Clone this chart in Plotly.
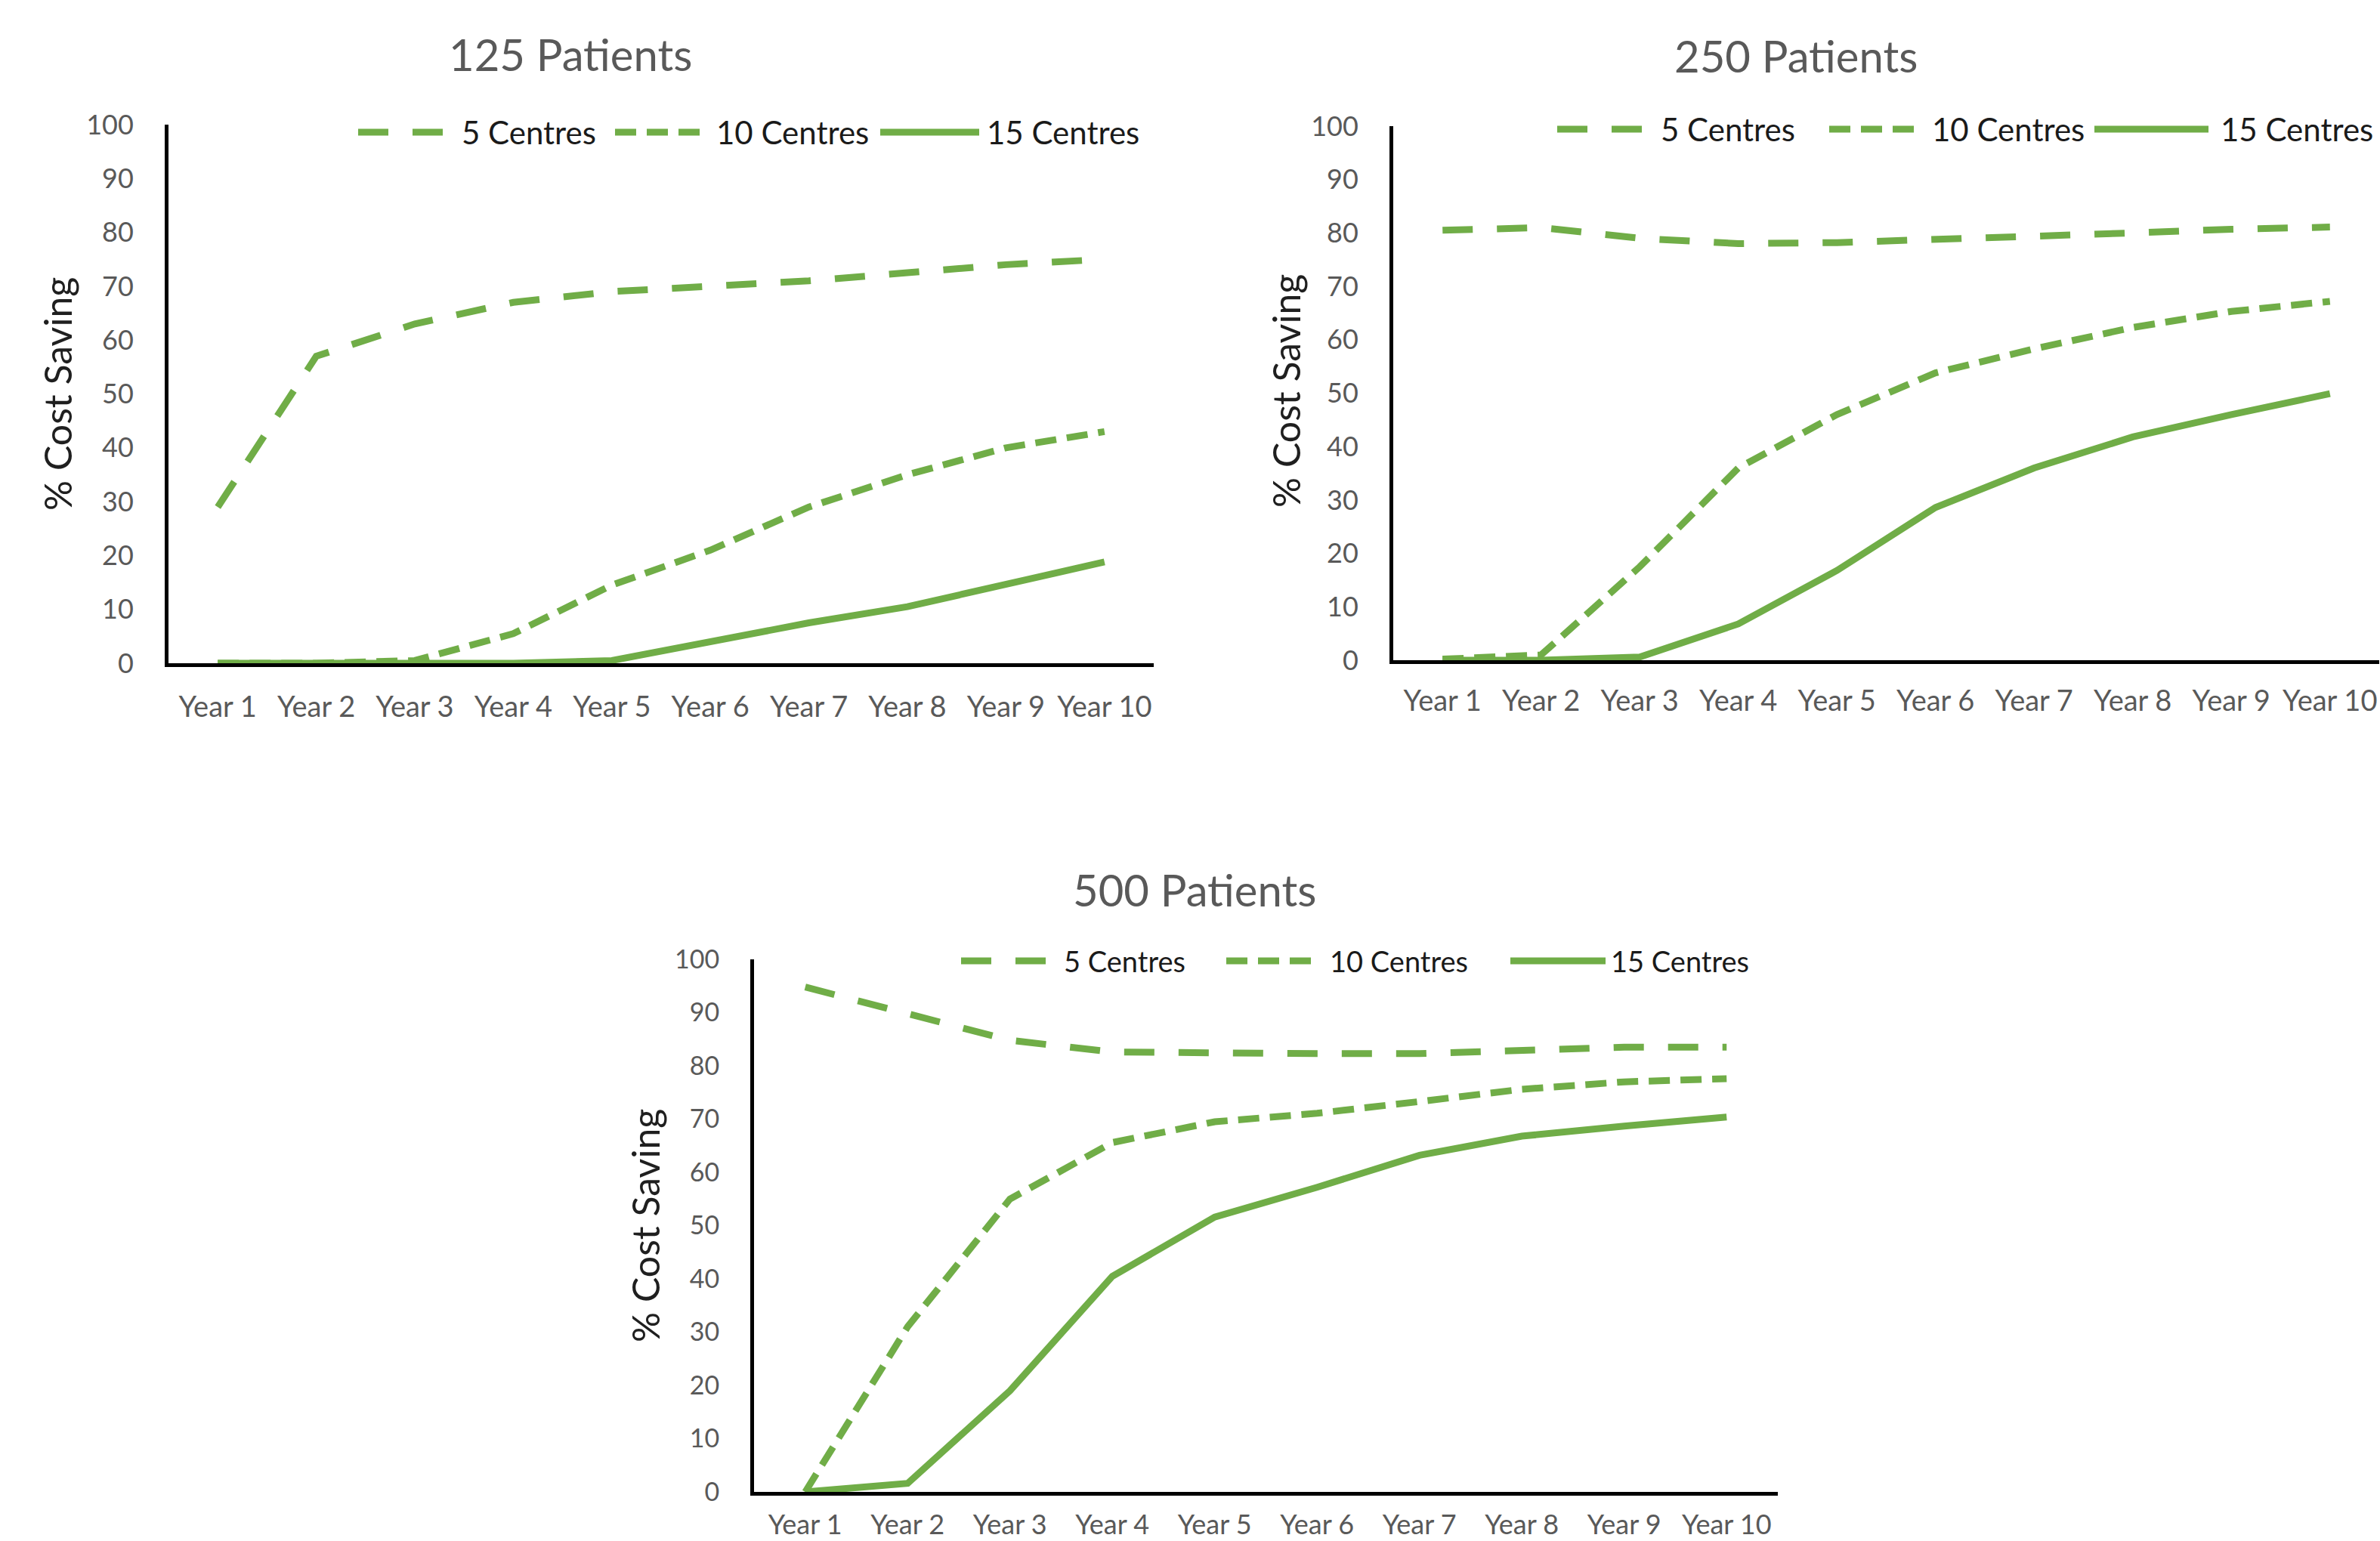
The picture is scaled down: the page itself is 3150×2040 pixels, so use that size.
import plotly.graph_objects as go

# ---- data -------------------------------------------------------------
years = ["Year 1", "Year 2", "Year 3", "Year 4", "Year 5",
         "Year 6", "Year 7", "Year 8", "Year 9", "Year 10"]
series_names = ["5 Centres", "10 Centres", "15 Centres"]
panel_titles = ["125 Patients", "250 Patients", "500 Patients"]

p125_5c = [29, 57, 63, 67, 69, 70, 71, 72.5, 74, 75]
p125_10c = [0, 0, 0.5, 5.5, 14.5, 21, 29, 35, 40, 43]
p125_15c = [0, 0, 0, 0, 0.5, 4, 7.5, 10.5, 14.5, 18.8]

p250_5c = [80.5, 81, 79, 78, 78.2, 78.7, 79.3, 80, 80.7, 81.1]
p250_10c = [0.2, 1, 17.5, 36, 46, 53.8, 58.3, 62.3, 65.3, 67.2]
p250_15c = [0, 0, 0.6, 6.8, 16.8, 28.6, 36, 41.8, 46, 49.9]

p500_5c = [94.8, 89.8, 84.8, 82.6, 82.3, 82.3, 82.3, 83, 83.5, 83.5]
p500_10c = [0, 31, 55, 65.6, 69.5, 71.1, 73.3, 75.6, 77, 77.6]
p500_15c = [0, 1.6, 19, 40.5, 51.6, 57.2, 63.2, 66.8, 68.7, 70.4]

y_ticks = [0, 10, 20, 30, 40, 50, 60, 70, 80, 90, 100]

# ---- styling ------------------------------------------------------------
W, H = 3150, 2040
GREEN = "#70AD47"
DASHES = ["40px,32px", "28px,14px", "solid"]
LINE_W = 9
GREY = "#595959"
TEXT_FONT = "Lato, 'Open Sans', sans-serif"


def px_x(v):
    return v / W


def px_y(v):
    return 1 - v / H


# plot-area boxes in page pixels: left, right, top, bottom
panels = [
    dict(box=(223, 1527, 165, 878), title_xy=(755, 72), ytitle_xy=(76, 522),
         legend_y=175, legend=[(474, 594, 609), (814, 932, 946), (1165, 1296, 1304)],
         legend_size=42, tick_size=38, xtick_gap=20,
         data=[p125_5c, p125_10c, p125_15c]),
    dict(box=(1844, 3149, 167, 874), title_xy=(2377, 74), ytitle_xy=(1702, 518),
         legend_y=171, legend=[(2061, 2181, 2196), (2421, 2539, 2555), (2772, 2923, 2937)],
         legend_size=42, tick_size=38, xtick_gap=16,
         data=[p250_5c, p250_10c, p250_15c]),
    dict(box=(998, 2353, 1270, 1975), title_xy=(1581, 1177), ytitle_xy=(854, 1623),
         legend_y=1272, legend=[(1272, 1392, 1406), (1623, 1743, 1758), (1999, 2125, 2130)],
         legend_size=38, tick_size=36, xtick_gap=8,
         data=[p500_5c, p500_10c, p500_15c]),
]

fig = go.Figure()
annotations = []
shapes = []
layout_axes = {}

for i, p in enumerate(panels):
    k = "" if i == 0 else str(i + 1)
    left, right, top, bottom = p["box"]
    for name, vals, dash in zip(series_names, p["data"], DASHES):
        fig.add_trace(go.Scatter(
            x=years, y=vals, mode="lines", name=name, showlegend=False,
            line=dict(color=GREEN, width=LINE_W, dash=dash),
            xaxis="x" + k, yaxis="y" + k, hoverinfo="skip",
        ))
    layout_axes["xaxis" + k] = dict(
        domain=[px_x(left), px_x(right)], anchor="y" + k,
        type="category", range=[-0.5, 9.5], automargin=False,
        showline=True, linecolor="black", linewidth=5,
        showgrid=False, zeroline=False,
        ticks="outside", ticklen=p["xtick_gap"], tickcolor="rgba(0,0,0,0)",
        tickfont=dict(family=TEXT_FONT, size=p["tick_size"], color=GREY),
        fixedrange=True,
    )
    layout_axes["yaxis" + k] = dict(
        domain=[px_y(bottom), px_y(top)], anchor="x" + k,
        range=[0, 100], tickvals=y_ticks, automargin=False,
        showline=True, linecolor="black", linewidth=5,
        showgrid=False, zeroline=False,
        ticks="outside", ticklen=34, tickcolor="rgba(0,0,0,0)",
        tickfont=dict(family=TEXT_FONT, size=p["tick_size"] - 2, color=GREY),
        fixedrange=True,
    )
    # panel title
    tx, ty = p["title_xy"]
    annotations.append(dict(
        text=panel_titles[i], x=px_x(tx), y=px_y(ty), xref="paper", yref="paper",
        xanchor="center", yanchor="middle", showarrow=False,
        font=dict(family=TEXT_FONT, size=58, color=GREY),
    ))
    # y-axis title
    yx, yy = p["ytitle_xy"]
    annotations.append(dict(
        text="% Cost Saving", x=px_x(yx), y=px_y(yy), xref="paper", yref="paper",
        xanchor="center", yanchor="middle", showarrow=False, textangle=-90,
        font=dict(family=TEXT_FONT, size=50, color="#1f1f1f"),
    ))
    # legend row: line sample + label per series
    ly = p["legend_y"]
    for name, dash, (x0, x1, tx0) in zip(series_names, DASHES, p["legend"]):
        shapes.append(dict(
            type="line", xref="paper", yref="paper",
            x0=px_x(x0), x1=px_x(x1), y0=px_y(ly), y1=px_y(ly),
            line=dict(color=GREEN, width=LINE_W, dash=dash),
        ))
        annotations.append(dict(
            text=name, x=px_x(tx0), y=px_y(ly), xref="paper", yref="paper",
            xanchor="left", yanchor="middle", showarrow=False,
            font=dict(family=TEXT_FONT, size=p["legend_size"], color="#1a1a1a"),
        ))

fig.update_layout(
    width=W, height=H, autosize=False,
    margin=dict(l=0, r=0, t=0, b=0, autoexpand=False),
    paper_bgcolor="white", plot_bgcolor="white",
    showlegend=False,
    annotations=annotations, shapes=shapes,
    **layout_axes,
)

fig.write_html("out.html", config={"displayModeBar": False})
